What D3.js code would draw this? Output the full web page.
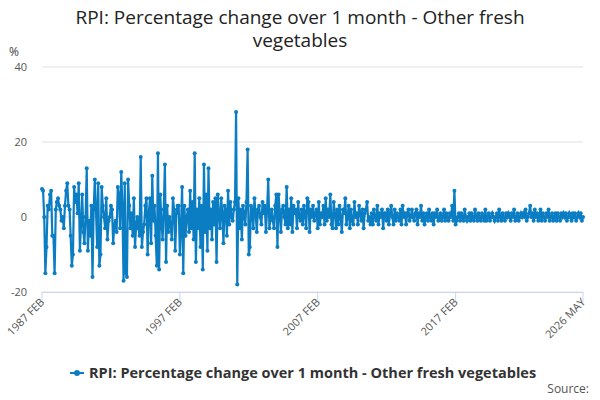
<!DOCTYPE html>
<html>
<head>
<script src="https://cdn.jsdelivr.net/npm/d3@7"></script>
<style>body{margin:0;font-family:"Open Sans",sans-serif;}</style>
</head>
<body>
<script>
var w = 600, h = 400;
var startYear = 1987, startMonth = 1; // Feb 1987
var yTicks = [-20, 0, 20, 40];
var xTickLabels = ["1987 FEB", "1997 FEB", "2007 FEB", "2017 FEB", "2026 MAY"];
var seriesName = "RPI: Percentage change over 1 month - Other fresh vegetables";
// monthly values, one row per year
var rows = [
 [7.5,7,0,-15,-8,3,2,6,7,-5,-5],
 [-15,2,4,5,3,2,-1,0,-3,3,7,9],
 [3,2,-5,-13,-10,8,4,6,1,9,-9,-2],
 [6,-4,-7,0,13,-9,-1,-5,3,-16,2,10],
 [2,-8,9,-13,-10,8,3,0,-3,5,-6,-1],
 [0,3,2,-7,-2,-1,-4,8,6,-3,12,3],
 [-17,9,-15,-16,10,3,-3,1,-5,5,-8,-2],
 [0,-3,-5,16,-8,-4,-2,3,5,-10,1,5],
 [-7,11,-1,3,-5,-13,17,-14,6,-1,-6,2],
 [14,-12,3,-4,0,-2,-6,5,2,-9,1,3],
 [3,-10,-3,8,-15,3,-5,0,2,-4,7,-3],
 [4,-6,17,-12,2,-3,5,-8,3,-14,14,-4],
 [6,-9,13,-3,2,-6,4,-2,5,-12,6,1],
 [-3,5,1,-7,3,2,-5,7,-2,4,0,-1],
 [2,4,28,-18,5,-3,2,-6,3,1,-2,4],
 [18,-10,-8,3,2,-3,5,1,-4,2,3,0],
 [-2,4,1,3,-4,2,10,-3,0,2,-1,-3],
 [3,6,-8,6,1,-4,2,3,0,-2,8,-3],
 [2,-2,5,-4,3,1,2,-3,4,0,-1,2],
 [-2,3,1,-3,5,4,-4,2,0,3,-1,1],
 [2,-3,4,-2,1,0,3,-2,5,-1,2,0],
 [6,-2,-3,4,1,-3,2,-2,3,0,-4,2],
 [1,5,-2,0,3,-3,2,-1,-2,4,0,1],
 [-2,3,1,-1,2,-3,1,2,4,-1,0,-2],
 [1,-2,2,0,-1,3,-2,1,0,2,-3,1],
 [1,-1,2,-2,1,3,0,-2,2,-1,1,0],
 [-1,2,-2,3,0,1,-2,1,2,-1,0,2],
 [0,-1,1,2,-2,1,0,3,-1,1,-2,0],
 [1,-1,2,0,-1,1,-2,1,0,2,-1,0],
 [1,-1,0,2,-1,1,0,-1,1,0,3,-1],
 [7,-2,-1,0,1,-1,1,0,-1,2,0,-1],
 [0,1,-1,1,0,-1,2,0,-1,1,0,-1],
 [1,0,-1,2,-1,0,1,-1,0,1,0,-1],
 [0,1,-1,2,0,-1,1,0,-1,1,0,1],
 [0,-1,1,0,2,-1,0,1,-1,0,1,0],
 [1,0,2,-1,0,1,3,0,1,-1,2,0],
 [1,-1,0,2,-1,1,0,-1,1,0,2,-1],
 [0,1,-1,0,1,-1,1,0,-1,1,0,1],
 [0,1,-1,0,1,0,-1,1,0,1,-1,0],
 [1,0,1,-1,0]
];
var values = [].concat.apply([], rows);
var data = values.map(function(v, i) {
  return { date: new Date(startYear, startMonth + i, 1), v: v };
});
var tickDates = [new Date(1987,1,1), new Date(1997,1,1), new Date(2007,1,1), new Date(2017,1,1), new Date(2026,4,1)];

var svg = d3.select("body").append("svg").attr("width", w).attr("height", h);

var x = d3.scaleTime().domain([data[0].date, data[data.length-1].date]).range([42, 583]);
var y = d3.scaleLinear().domain([-20, 40]).range([292, 67]);

svg.append("text").attr("x", 300).attr("y", 24).attr("text-anchor", "middle")
  .attr("font-size", "19px").attr("fill", "#222").text("RPI: Percentage change over 1 month - Other fresh");
svg.append("text").attr("x", 300).attr("y", 47).attr("text-anchor", "middle")
  .attr("font-size", "19px").attr("fill", "#222").text("vegetables");
svg.append("text").attr("x", 9).attr("y", 56).attr("font-size", "12px").attr("fill", "#444").text("%");

svg.selectAll(".grid").data(yTicks).enter().append("line")
  .attr("x1", 42).attr("x2", 583).attr("y1", y).attr("y2", y)
  .attr("stroke", "#e0e0e6").attr("stroke-width", 1);
svg.selectAll(".yl").data(yTicks).enter().append("text")
  .attr("x", 27).attr("y", function(d){ return y(d) + 4; }).attr("text-anchor", "end")
  .attr("font-size", "11px").attr("fill", "#555").text(function(d){ return d; });

svg.append("line").attr("x1", 42).attr("x2", 583).attr("y1", 292.5).attr("y2", 292.5)
  .attr("stroke", "#ccd6eb");
svg.selectAll(".xt").data(tickDates).enter().append("line")
  .attr("x1", x).attr("x2", x).attr("y1", 292).attr("y2", 302).attr("stroke", "#ccd6eb");
svg.selectAll(".xl").data(tickDates).enter().append("text")
  .attr("transform", function(d){ return "translate(" + (x(d) + 3) + ",303) rotate(-45)"; })
  .attr("text-anchor", "end").attr("font-size", "11px").attr("fill", "#555")
  .text(function(d, i){ return xTickLabels[i]; });

var line = d3.line().x(function(d){ return x(d.date); }).y(function(d){ return y(d.v); });
svg.append("path").datum(data).attr("d", line).attr("fill", "none")
  .attr("stroke", "#0b7dc3").attr("stroke-width", 2.2);
svg.selectAll(".pt").data(data).enter().append("circle")
  .attr("cx", function(d){ return x(d.date); }).attr("cy", function(d){ return y(d.v); })
  .attr("r", 2).attr("fill", "#0b7dc3");

svg.append("line").attr("x1", 70).attr("x2", 84).attr("y1", 373).attr("y2", 373)
  .attr("stroke", "#0b7dc3").attr("stroke-width", 2);
svg.append("circle").attr("cx", 77).attr("cy", 373).attr("r", 3).attr("fill", "#0b7dc3");
svg.append("text").attr("x", 89).attr("y", 378).attr("font-size", "14.5px").attr("font-weight", "bold")
  .attr("fill", "#333").text(seriesName);
svg.append("text").attr("x", 589).attr("y", 393).attr("text-anchor", "end")
  .attr("font-size", "12px").attr("fill", "#555").text("Source:");
</script>
</body>
</html>
